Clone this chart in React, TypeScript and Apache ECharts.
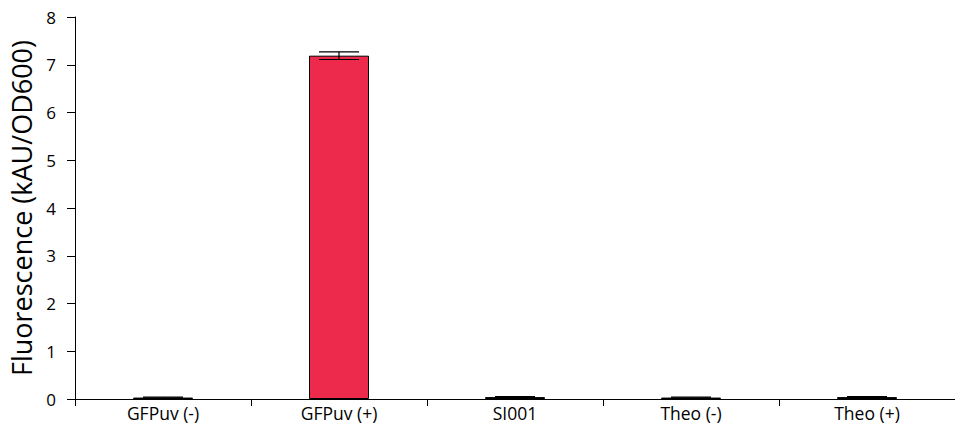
import React, { useEffect, useRef } from "react";
import * as echarts from "echarts";

const categories = ["GFPuv (-)", "GFPuv (+)", "SI001", "Theo (-)", "Theo (+)"];
const values = [0.03, 7.19, 0.04, 0.03, 0.04];
const errors = [0.01, 0.08, 0.01, 0.01, 0.01];
const yTicks = [0, 1, 2, 3, 4, 5, 6, 7, 8];

export default function App() {
  const ref = useRef<HTMLDivElement>(null);
  useEffect(() => {
    if (!ref.current) return;
    const chart = echarts.init(ref.current, null, { renderer: "svg" });
    const font = "'Open Sans', 'Noto Sans', sans-serif";
    chart.setOption({
      animation: false,
      grid: { left: 72, right: -6, top: 17, bottom: 27 },
      xAxis: {
        type: "category",
        data: categories,
        axisLine: { lineStyle: { color: "#000", width: 1 } },
        axisTick: { show: true, length: 7, lineStyle: { color: "#000" } },
        axisLabel: { color: "#000", fontSize: 17.5, fontFamily: font, margin: 5 },
      },
      yAxis: {
        type: "value",
        min: yTicks[0],
        max: yTicks[yTicks.length - 1],
        interval: 1,
        name: "Fluorescence (kAU/OD600)",
        nameLocation: "middle",
        nameGap: 40,
        nameTextStyle: { color: "#000", fontSize: 27, fontFamily: font },
        axisLine: { show: true, lineStyle: { color: "#000", width: 1 } },
        axisTick: { show: true, length: 8, lineStyle: { color: "#000" } },
        axisLabel: { color: "#000", fontSize: 17, fontFamily: font, margin: 19 },
        splitLine: { show: false },
      },
      series: [
        {
          type: "bar",
          data: values,
          barWidth: 60,
          itemStyle: { color: "#ED2A4B", borderColor: "#000", borderWidth: 1 },
        },
        {
          type: "custom",
          data: values.map((v, i) => [i, v - errors[i], v + errors[i]]),
          renderItem: (params: any, api: any) => {
            const x = api.value(0);
            const lo = api.coord([x, api.value(1)]);
            const hi = api.coord([x, api.value(2)]);
            const hw = 20;
            const style = { stroke: "#000", lineWidth: 1.2 };
            return {
              type: "group",
              children: [
                { type: "line", shape: { x1: lo[0], y1: lo[1], x2: hi[0], y2: hi[1] }, style },
                { type: "line", shape: { x1: lo[0] - hw, y1: lo[1], x2: lo[0] + hw, y2: lo[1] }, style },
                { type: "line", shape: { x1: hi[0] - hw, y1: hi[1], x2: hi[0] + hw, y2: hi[1] }, style },
              ],
            };
          },
          z: 5,
        },
      ],
    });
    return () => chart.dispose();
  }, []);
  return (
    <div
      ref={ref}
      style={{ position: "fixed", left: 0, top: 0, width: 955, height: 426, background: "#fff" }}
    />
  );
}
